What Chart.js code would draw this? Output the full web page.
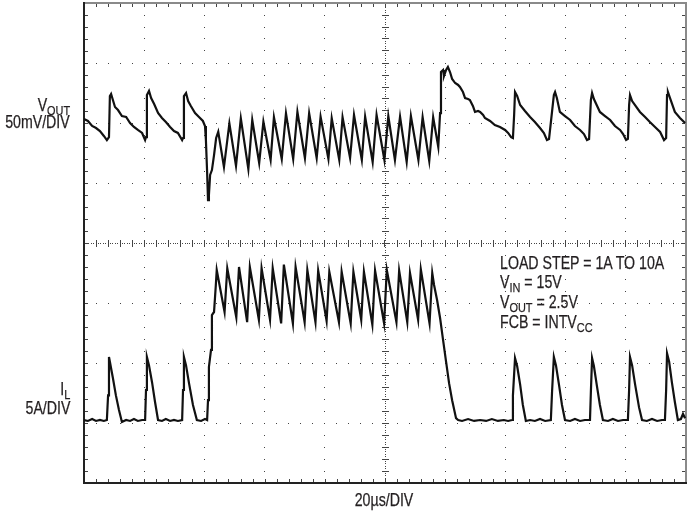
<!DOCTYPE html>
<html>
<head>
<meta charset="utf-8">
<script src="https://cdn.jsdelivr.net/npm/chart.js@4.4.1/dist/chart.umd.min.js"></script>
<style>
  body { margin: 0; background: #fff; }
  #wrap { position: relative; width: 687px; height: 514px; }
  .lbl {
    position: absolute;
    font-family: "Liberation Sans", Arial, sans-serif;
    font-size: 17.5px;
    line-height: 17px;
    color: #231f20;
    -webkit-text-stroke: 0.25px #231f20;
    white-space: nowrap;
    transform: scaleX(0.81);
    transform-origin: left top;
  }
  .lbl sub { font-size: 13.5px; vertical-align: baseline; position: relative; top: 4px; }
  .left { right: 617px; text-align: right; transform-origin: right top; }
  .mid { transform-origin: center top; }
</style>
</head>
<body>
<div id="wrap">
  <canvas id="scope" width="687" height="514"></canvas>
  <div class="lbl left" style="top:97px">V<sub>OUT</sub></div>
  <div class="lbl left" style="top:114px">50mV/DIV</div>
  <div class="lbl left" style="top:381px">I<sub>L</sub></div>
  <div class="lbl left" style="top:400px">5A/DIV</div>
  <div class="lbl" style="left:500px; top:254px; line-height:19px">
    LOAD STEP = 1A TO 10A<br>
    V<sub>IN</sub> = 15V<br>
    V<sub>OUT</sub> = 2.5V<br>
    FCB = INTV<sub>CC</sub>
  </div>
  <div class="lbl mid" style="left:334px; width:100px; text-align:center; top:492px">20µs/DIV</div>
</div>
<script>
// time in µs, VOUT in mV (AC, 50mV/DIV), IL in A (5A/DIV)
const vTime = [
  0, 1.3, 2.7, 4.0, 5.3, 6.6, 7.6, 8.3, 8.6, 9.0, 9.6, 10.3, 11.3, 12.6, 14.0, 15.3, 16.6, 17.9, 19.3, 20.3,
  20.6, 20.9, 21.6, 22.3, 23.3, 24.6, 25.9, 27.2, 28.6, 29.9, 31.2, 32.6, 32.9, 33.2, 33.9, 34.6, 35.5, 36.9, 38.2, 39.5,
  40.2, 40.5, 40.9, 41.2, 41.5, 41.9, 42.5, 43.2, 43.9,
  44.6, 46.5, 48.3, 50.5, 52.1, 54.6, 55.9, 58.2, 59.6, 62.0, 63.1, 65.7, 67.1, 69.5, 70.9, 73.4, 74.8, 77.3, 78.6, 81.2,
  82.3, 84.8, 85.9, 88.4, 89.7, 92.3, 93.4, 95.9, 97.2, 99.8, 101.1, 103.3, 105.0, 107.2, 108.6, 111.1, 112.5, 114.7, 116.0, 117.7,
  118.3, 118.6, 119.3, 119.6, 120.3, 120.9, 121.6, 122.3, 123.3, 124.3, 124.9, 125.9, 126.6, 127.6, 128.2, 129.2, 129.9, 130.9, 131.6, 132.6,
  133.2, 134.9, 136.5, 138.2, 139.9, 140.9, 141.9, 142.5, 142.9, 143.2, 143.9, 144.9, 146.5, 148.2, 149.8, 151.5, 152.8, 153.8, 154.5, 156.1,
  156.5, 157.1, 158.1, 159.8, 161.5, 163.1, 164.8, 166.1, 167.1, 167.8, 168.4, 168.8, 169.4, 171.4, 173.1, 174.8, 176.4, 178.1, 179.1, 180.1,
  180.7, 181.1, 181.4, 182.1, 184.7, 186.4, 188.0, 189.7, 191.4, 192.7, 193.4, 193.7, 194.0, 194.7, 196.3, 198.0, 199.7
];
const vOut = [
  3.3, 1.7, -2.5, -4.2, -6.7, -10.8, -14.2, -11.7, 22.5, 24.2, 19.2, 13.3, 10.8, 5.8, 5.0, 0, -3.3, -5.8, -8.3, -14.2,
  -11.7, 23.3, 26.7, 20.8, 15.8, 8.3, 4.2, 0.8, -3.3, -6.7, -8.3, -14.2, -12.5, 22.5, 25.0, 18.3, 14.2, 8.3, 5.0, 1.7,
  -2.5, -14.2, -40.8, -64.2, -60.0, -43.3, -39.2, -26.7, -12.5,
  -7.3, -36.7, -0.3, -35.8, 3.9, -38.3, 2.5, -33.3, 1.1, -30.8, 4.8, -30.0, 8.1, -30.0, 9.4, -29.2, 8.1, -29.2, 5.3, -30.0,
  3.9, -30.8, 4.8, -29.2, 6.7, -30.8, 5.3, -32.5, 6.7, -30.8, 5.8, -30.8, 5.3, -32.5, 5.8, -30.8, 4.8, -31.7, 4.8, -20.0,
  8.3, 42.5, 44.2, 39.2, 44.2, 46.7, 42.5, 36.7, 33.3, 31.7, 30.0, 25.8, 20.8, 20.0, 19.2, 14.2, 9.2, 10.0, 9.2, 6.7,
  4.2, 1.7, -1.7, -3.3, -5.8, -8.3, -11.7, -12.5, 6.7, 25.8, 22.5, 15.0, 10.0, 5.0, 0.8, -4.2, -8.3, -14.2, -13.3, 23.3,
  25.8, 20.8, 9.2, 5.8, 2.5, -2.5, -5.8, -9.2, -14.2, -13.3, 19.2, 25.0, 20.0, 9.2, 5.8, 2.5, -2.5, -5.8, -9.2, -14.2,
  -13.3, 15.0, 23.3, 18.3, 9.2, 5.0, 0.8, -3.3, -7.5, -14.2, -12.5, 23.3, 25.8, 20.8, 9.2, 4.2, 0
];
const iTime = [
  0, 1.3, 2.7, 4.0, 5.3, 6.6, 7.6, 8.0, 8.3, 8.6, 9.6, 10.6, 11.6, 12.6, 14.0, 15.3, 16.6, 17.9, 19.3, 20.3,
  20.6, 20.9, 21.6, 22.6, 23.6, 24.6, 25.9, 27.2, 28.6, 29.9, 31.2, 32.6, 32.9, 33.2, 33.9, 34.9, 36.2, 37.5, 38.9, 40.2,
  40.9, 41.2, 41.5, 42.2, 42.5, 43.2, 43.8,
  44.1, 46.7, 47.6, 50.6, 51.5, 54.2, 55.1, 58.1, 59.0, 61.8, 62.7, 65.5, 66.4, 69.4, 70.3, 73.3, 74.2, 76.9, 77.8, 80.6,
  81.5, 84.7, 85.6, 88.6, 89.5, 92.1, 93.0, 95.8, 96.7, 99.7, 100.6, 103.8, 104.7, 107.4, 108.3, 111.0, 111.9, 114.8, 115.7,
  116.3, 117.3, 118.3, 119.3, 120.3, 121.3, 122.3, 123.6, 124.3, 125.6, 127.6, 129.6, 131.6, 133.6, 135.5, 137.5, 139.5, 140.9, 142.2, 142.5,
  143.2, 143.9, 144.9, 145.8, 146.8, 148.2, 149.8, 151.5, 153.2, 155.1, 155.5, 156.1, 156.8, 157.8, 158.8, 159.8, 161.5, 163.1, 164.8, 166.4,
  168.1, 168.4, 168.8, 169.4, 170.4, 171.4, 172.4, 174.1, 175.7, 177.4, 179.1, 180.7, 181.1, 181.4, 182.1, 183.1, 184.4, 185.4, 187.0, 188.7,
  190.4, 192.0, 193.0, 193.4, 193.7, 194.4, 195.3, 196.3, 197.3, 198.3, 199.0, 199.7
];
const iL = [
  0.25, 0.17, 0.33, 0.17, 0.25, 0.17, 0.25, 2.3, 5.5, 5.1, 3.75, 2.3, 1.1, 0.08, 0.25, 0.17, 0.33, 0.17, 0.25, 0.25,
  2.75, 5.5, 4.8, 3.4, 1.75, 0.25, 0.17, 0.33, 0.17, 0.25, 0.17, 0.25, 2.75, 5.5, 4.8, 3.3, 1.5, 0.25, 0.17, 0.33,
  0.25, 1.9, 4.67, 6.1, 9.0, 9.25, 11.5,
  12.75, 9.25, 12.9, 8.8, 13.0, 8.4, 13.0, 8.6, 12.9, 8.6, 12.9, 8.3, 13.2, 8.3, 13.0, 8.4, 12.75, 8.4, 12.7, 8.5,
  12.6, 8.4, 12.6, 8.3, 12.6, 8.6, 12.6, 8.2, 12.7, 8.3, 12.75, 8.4, 12.7, 8.4, 12.5, 8.6, 12.8, 8.3, 12.5,
  11.5, 10.25, 8.75, 6.9, 5.1, 3.3, 1.9, 0.4, 0.25, 0.17, 0.33, 0.17, 0.25, 0.17, 0.33, 0.17, 0.25, 0.17, 0.25, 2.3,
  5.4, 4.75, 3.2, 1.5, 0.17, 0.25, 0.17, 0.33, 0.17, 0.25, 2.6, 5.5, 4.8, 3.2, 1.5, 0.25, 0.17, 0.33, 0.17, 0.25,
  0.25, 2.6, 5.4, 4.75, 3.1, 1.5, 0.25, 0.17, 0.33, 0.17, 0.25, 0.25, 2.75, 5.5, 4.8, 3.2, 1.3, 0.25, 0.17, 0.33,
  0.17, 0.25, 0.25, 2.75, 5.8, 5.1, 3.4, 1.75, 0.25, 0.33, 0.75, 0.4
];

const toPoints = (xs, ys) => xs.map((t, i) => ({ x: t, y: ys[i] }));

// scope graticule: dotted lines every division, minor marks every 1/5 division
const graticule = {
  id: 'graticule',
  beforeDatasetsDraw(chart) {
    const { ctx, chartArea: a, scales: { x, yV } } = chart;
    const dot = (px, py, w, h) => ctx.fillRect(Math.round(px - w / 2), Math.round(py - h / 2), w, h);
    ctx.save();
    ctx.fillStyle = '#444';
    // vertical division lines
    for (let t = 20; t < 200; t += 20) {
      const px = x.getPixelForValue(t);
      const centre = t === 100;
      for (let v = -300; v <= 100.01; v += centre ? 2 : 10) {
        const py = yV.getPixelForValue(v);
        const major = Math.abs(v / 10 - Math.round(v / 10)) < 0.01;
        if (centre && major) dot(px, py, 7, 1);
        else dot(px, py, 1, 1);
      }
    }
    // horizontal division lines
    for (let v = -250; v < 100; v += 50) {
      const py = yV.getPixelForValue(v);
      const centre = v === -100;
      for (let t = 0; t <= 200.01; t += centre ? 0.8 : 4) {
        const px = x.getPixelForValue(t);
        const major = Math.abs(t / 4 - Math.round(t / 4)) < 0.01;
        if (centre && major) dot(px, py, 1, 7);
        else dot(px, py, 1, 1);
      }
    }
    // ticks on the frame
    for (let t = 4; t < 200; t += 4) {
      const px = x.getPixelForValue(t);
      ctx.fillRect(Math.round(px), a.top, 1, 4);
      ctx.fillRect(Math.round(px), a.bottom - 4, 1, 4);
    }
    for (let v = -290; v < 100; v += 10) {
      const py = yV.getPixelForValue(v);
      ctx.fillRect(a.left, Math.round(py), 4, 1);
      ctx.fillRect(a.right - 4, Math.round(py), 4, 1);
    }
    // frame
    ctx.fillStyle = '#8a8a8a';
    ctx.fillRect(a.left, a.top - 1, a.right - a.left + 1, 2);
    ctx.fillRect(a.right - 1, a.top - 1, 2, a.bottom - a.top + 1);
    ctx.fillStyle = '#222';
    ctx.fillRect(a.left - 1, a.top - 1, 2, a.bottom - a.top + 2);
    ctx.fillRect(a.left - 1, a.bottom - 1, a.right - a.left + 2, 2);
    ctx.restore();
  }
};

const ctx = document.getElementById('scope').getContext('2d');
const chart = new Chart(ctx, {
  type: 'scatter',
  data: {
    datasets: [
      {
        label: 'VOUT',
        data: toPoints(vTime, vOut),
        yAxisID: 'yV',
        showLine: true,
        borderColor: '#111',
        borderWidth: 2.2,
        pointRadius: 0,
        tension: 0
      },
      {
        label: 'IL',
        data: toPoints(iTime, iL),
        yAxisID: 'yI',
        showLine: true,
        borderColor: '#111',
        borderWidth: 2.2,
        pointRadius: 0,
        tension: 0
      }
    ]
  },
  options: {
    responsive: false,
    animation: false,
    layout: { padding: { left: 84, top: 3, right: 1, bottom: 31 } },
    plugins: { legend: { display: false }, tooltip: { enabled: false } },
    scales: {
      x: { type: 'linear', min: 0, max: 200, display: false },
      yV: { type: 'linear', min: -300, max: 100, display: false },
      yI: { type: 'linear', min: -5, max: 35, display: false }
    }
  },
  plugins: [graticule]
});
</script>
</body>
</html>
